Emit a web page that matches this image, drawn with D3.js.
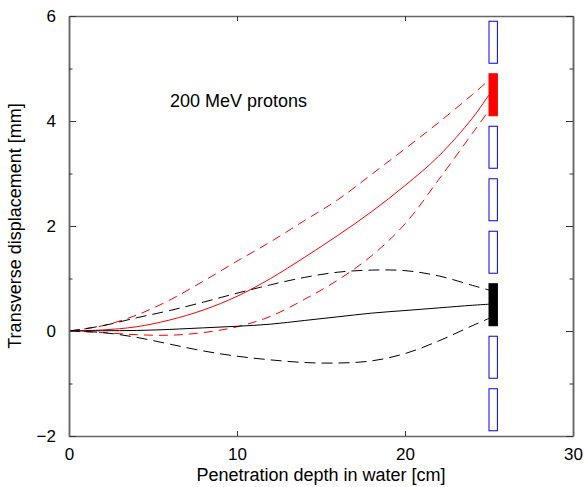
<!DOCTYPE html>
<html>
<head>
<meta charset="utf-8">
<script src="https://cdn.jsdelivr.net/npm/d3@7"></script>
<style>
  body { margin: 0; background: #fff; }
  text { font-family: "Liberation Sans", Arial, sans-serif; }
</style>
</head>
<body>
<div class="chart"></div>
<script>
// depth [cm] at which the displacement was read
const depth = [0, 2, 4, 6, 8, 10, 12, 14, 16, 18, 20, 22, 24, 25]

// transverse displacement [mm]
const redMid = [0, 0.02, 0.08, 0.21, 0.4, 0.66, 1.0, 1.4, 1.82, 2.27, 2.77, 3.33, 4.05, 4.5]
const redUpper = [0, 0.1, 0.3, 0.59, 0.95, 1.33, 1.7, 2.1, 2.5, 2.98, 3.47, 3.97, 4.5, 4.78]
const redLower = [0, -0.03, -0.07, -0.08, -0.03, 0.08, 0.28, 0.6, 0.97, 1.43, 2.04, 2.88, 3.76, 4.2]
const blackMid = [0, 0.005, 0.01, 0.03, 0.06, 0.09, 0.13, 0.2, 0.27, 0.34, 0.39, 0.44, 0.49, 0.51]
const blackUpper = [0, 0.1, 0.25, 0.39, 0.55, 0.72, 0.88, 1.02, 1.12, 1.16, 1.15, 1.05, 0.87, 0.78]
const blackLower = [0, -0.03, -0.12, -0.25, -0.38, -0.48, -0.55, -0.6, -0.61, -0.57, -0.43, -0.19, 0.1, 0.24]

// detector strips at the exit plane: [from, to] in mm
const stripDepth = [25, 25.5]
const stripLow = [5.1, 4.1, 3.1, 2.1, 1.1, 0.1, -0.9, -1.9]
const stripHigh = [5.9, 4.9, 3.9, 2.9, 1.9, 0.9, -0.1, -1.1]
const stripFill = ['none', 'red', 'none', 'none', 'none', 'black', 'none', 'none']

const xTicks = [0, 10, 20, 30]
const yTicks = [-2, 0, 2, 4, 6]
const yMinor = [-1, 1, 3, 5]

const width = 584
const height = 487
const margin = { top: 16, right: 11, bottom: 51, left: 69 }

const svg = d3.select('.chart').append('svg')
  .attr('width', width)
  .attr('height', height)

const x = d3.scaleLinear().domain([0, 30]).range([margin.left, width - margin.right])
const y = d3.scaleLinear().domain([-2, 6]).range([height - margin.bottom, margin.top])

// curves
const line = d3.line()
  .x((d, i) => x(depth[i]))
  .y(d => y(d))
  .curve(d3.curveCatmullRom.alpha(0.5))

const curves = [
  { v: redUpper, color: 'red', dash: '9,6' },
  { v: redLower, color: 'red', dash: '9,6' },
  { v: redMid, color: 'red', dash: null },
  { v: blackUpper, color: 'black', dash: '11,6' },
  { v: blackLower, color: 'black', dash: '11,6' },
  { v: blackMid, color: 'black', dash: null }
]

svg.selectAll('path.curve')
  .data(curves)
  .enter()
  .append('path')
  .attr('class', 'curve')
  .attr('d', d => line(d.v))
  .attr('fill', 'none')
  .attr('stroke', d => d.color)
  .attr('stroke-width', 1)
  .attr('stroke-dasharray', d => d.dash)

// strips
svg.selectAll('rect.strip')
  .data(stripLow)
  .enter()
  .append('rect')
  .attr('class', 'strip')
  .attr('x', x(stripDepth[0]))
  .attr('width', x(stripDepth[1]) - x(stripDepth[0]))
  .attr('y', (d, i) => y(stripHigh[i]))
  .attr('height', (d, i) => y(stripLow[i]) - y(stripHigh[i]))
  .attr('fill', (d, i) => stripFill[i])
  .attr('stroke', (d, i) => stripFill[i] === 'none' ? '#0000ff' : stripFill[i])
  .attr('stroke-width', 1)

// axes, ticks pointing inward
const axisColor = '#666'
svg.append('g')
  .attr('transform', `translate(0,${y(-2)})`)
  .call(d3.axisBottom(x).tickValues(xTicks).tickSizeInner(-5).tickSizeOuter(0).tickPadding(12))
svg.append('g')
  .attr('transform', `translate(0,${y(6)})`)
  .call(d3.axisTop(x).tickValues(xTicks).tickSizeInner(-5).tickSizeOuter(0).tickFormat(''))
svg.append('g')
  .attr('transform', `translate(${x(0)},0)`)
  .call(d3.axisLeft(y).tickValues(yTicks).tickSizeInner(-7).tickSizeOuter(0).tickPadding(13)
    .tickFormat(d => d < 0 ? '\u2212' + Math.abs(d) : d))
svg.append('g')
  .attr('transform', `translate(${x(30)},0)`)
  .call(d3.axisRight(y).tickValues(yTicks).tickSizeInner(-7).tickSizeOuter(0).tickFormat(''))

svg.append('g')
  .attr('transform', `translate(${x(0)},0)`)
  .call(d3.axisLeft(y).tickValues(yMinor).tickSizeInner(-3.5).tickSizeOuter(0).tickFormat(''))
svg.append('g')
  .attr('transform', `translate(${x(30)},0)`)
  .call(d3.axisRight(y).tickValues(yMinor).tickSizeInner(-3.5).tickSizeOuter(0).tickFormat(''))

svg.selectAll('.domain').attr('stroke', axisColor).attr('stroke-width', 1.5)
svg.selectAll('.tick line').attr('stroke', '#333')
svg.selectAll('.tick text')
  .attr('font-size', 17)
  .attr('fill', '#000')
  .style('font-family', '"Liberation Sans", Arial, sans-serif')

// titles
svg.append('text')
  .attr('x', (x(0) + x(30)) / 2)
  .attr('y', 481)
  .attr('text-anchor', 'middle')
  .attr('font-size', 18)
  .text('Penetration depth in water [cm]')

svg.append('text')
  .attr('transform', `translate(21,${(y(-2) + y(6)) / 2}) rotate(-90)`)
  .attr('text-anchor', 'middle')
  .attr('font-size', 18)
  .text('Transverse displacement [mm]')

svg.append('text')
  .attr('x', 170)
  .attr('y', 107)
  .attr('font-size', 18)
  .text('200 MeV protons')
</script>
</body>
</html>
